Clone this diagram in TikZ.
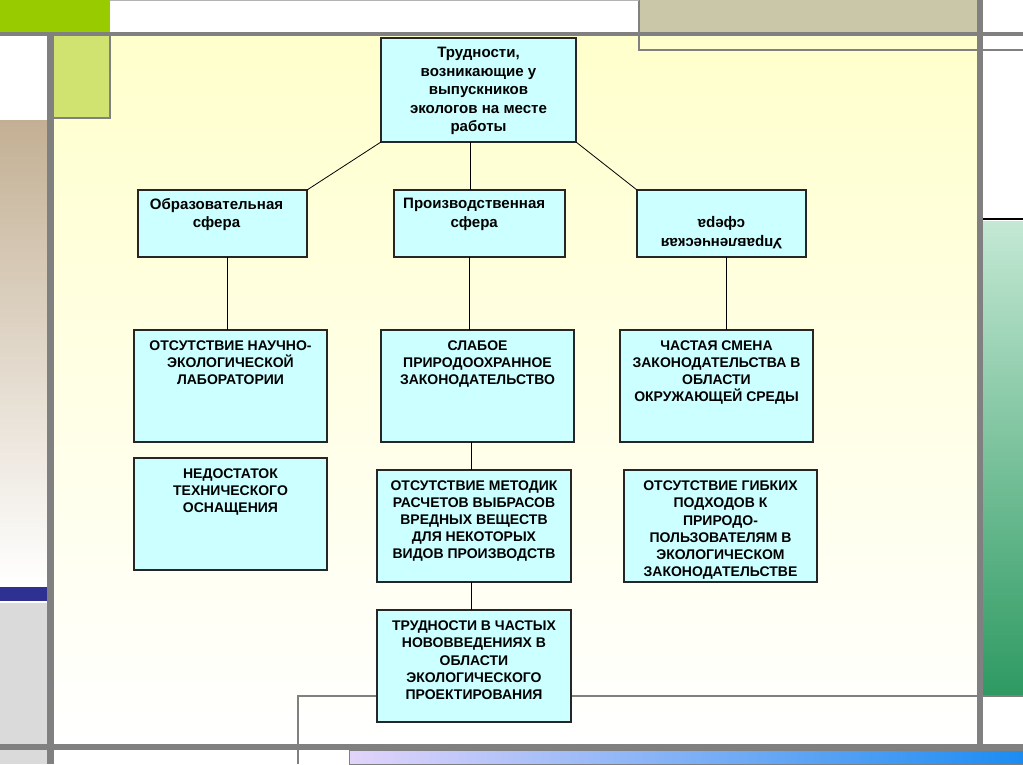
\documentclass[tikz,border=0pt]{standalone}
\usepackage{fontspec}
\setmainfont{Liberation Sans}
\usetikzlibrary{fit,calc}
\definecolor{barGray}{HTML}{808080}
\definecolor{bgYellow}{HTML}{FFFFCC}
\definecolor{greenA}{HTML}{99CC00}
\definecolor{greenB}{HTML}{D0E270}
\definecolor{khaki}{HTML}{C9C7A8}
\definecolor{tanTop}{HTML}{C3B094}
\definecolor{navyBand}{HTML}{2E3192}
\definecolor{lightGray}{HTML}{DADADA}
\definecolor{mintTop}{HTML}{C4E8D4}
\definecolor{mintBot}{HTML}{2E9A62}
\definecolor{lavender}{HTML}{E2D4FA}
\definecolor{skyBlue}{HTML}{1C8CF2}
\definecolor{boxFill}{HTML}{CCFFFF}
\begin{document}
\begin{tikzpicture}[x=0.75pt,y=-0.75pt,
  box/.style={draw=black!85, fill=boxFill, line width=0.8pt, inner sep=0pt, outer sep=0pt},
  txt/.style={font=\bfseries\fontsize{10.5}{12.9}\selectfont, align=center, inner sep=0pt, anchor=north},
  bigtxt/.style={txt, font=\bfseries\fontsize{11.3}{13.8}\selectfont},
  conn/.style={draw=black, line width=0.6pt},
  thinline/.style={draw=barGray, line width=1.2pt}]
\useasboundingbox (0,0) rectangle (1023,764);
\fill[white] (0,0) rectangle (1023,764);
% main background
\shade[top color=bgYellow, bottom color=white] (54,35) rectangle (977,744);
% left column
\shade[top color=tanTop, bottom color=white] (0,120) rectangle (47,585);
\fill[navyBand] (0,587) rectangle (47,601);
\fill[lightGray] (0,603) rectangle (47,764);
% top blocks
\fill[greenA] (0,0) rectangle (110,32);
\fill[khaki] (639,0) rectangle (977,32);
\fill[greenB] (54,36) rectangle (110,118);
\draw[draw=barGray, line width=1pt] (54,118) -- (110,118) -- (110,36);
% right column
\shade[top color=mintTop, bottom color=mintBot] (983,221) rectangle (1023,695);
\draw[line width=1.8pt] (983,219) -- (1023,219);
% bottom gradient
\shade[left color=lavender, right color=skyBlue, draw=barGray, line width=0.6pt] (349,750) rectangle (1023,764);
% thin frame lines
\draw[thinline] (298,764) -- (298,696) -- (1023,696);
\draw[thinline] (639,0) -- (639,50) -- (1023,50);
\draw[draw=barGray!60, line width=0.8pt] (110,0.5) -- (639,0.5);
% thick gray bars
\fill[barGray] (0,32) rectangle (1023,36);
\fill[barGray] (47,32) rectangle (54,764);
\fill[barGray] (977,0) rectangle (983,750);
\fill[barGray] (0,744) rectangle (1023,750);

% boxes
\node[box, fit={(381,38)(576,142)}] (top) {};
\node[box, fit={(138,190)(307,257)}] (obr) {};
\node[box, fit={(394,190)(565,257)}] (pro) {};
\node[box, fit={(637,190)(806,257)}] (upr) {};
\node[box, fit={(134,330)(327,442)}] (ra) {};
\node[box, fit={(381,330)(574,442)}] (rb) {};
\node[box, fit={(620,330)(813,442)}] (rc) {};
\node[box, fit={(134,458)(327,570)}] (sa) {};
\node[box, fit={(377,470)(571,582)}] (sb) {};
\node[box, fit={(624,470)(817,582)}] (sc) {};
\node[box, fit={(377,610)(571,722)}] (tb) {};

% texts
\node[bigtxt] (ttop) at ([yshift=-7pt]top.north) {Трудности,\\возникающие у\\выпускников\\экологов на месте\\работы};
\node[bigtxt] (tobr) at ([xshift=-4.5pt,yshift=-6pt]obr.north) {Образовательная\\сфера};
\node[bigtxt] (tpro) at ([xshift=-4pt,yshift=-6pt]pro.north) {Производственная\\сфера};
\node[bigtxt, rotate=180] (tupr) at ([yshift=6pt]upr.south) {Управленческая\\сфера};
\node[txt] (tra) at ([yshift=-7.5pt]ra.north) {ОТСУТСТВИЕ НАУЧНО-\\ЭКОЛОГИЧЕСКОЙ\\ЛАБОРАТОРИИ};
\node[txt] (trb) at ([yshift=-7.5pt]rb.north) {СЛАБОЕ\\ПРИРОДООХРАННОЕ\\ЗАКОНОДАТЕЛЬСТВО};
\node[txt] (trc) at ([yshift=-7.5pt]rc.north) {ЧАСТАЯ СМЕНА\\ЗАКОНОДАТЕЛЬСТВА В\\ОБЛАСТИ\\ОКРУЖАЮЩЕЙ СРЕДЫ};
\node[txt] (tsa) at ([yshift=-7.5pt]sa.north) {НЕДОСТАТОК\\ТЕХНИЧЕСКОГО\\ОСНАЩЕНИЯ};
\node[txt] (tsb) at ([yshift=-7.5pt]sb.north) {ОТСУТСТВИЕ МЕТОДИК\\РАСЧЕТОВ ВЫБРАСОВ\\ВРЕДНЫХ ВЕЩЕСТВ\\ДЛЯ НЕКОТОРЫХ\\ВИДОВ ПРОИЗВОДСТВ};
\node[txt] (tsc) at ([yshift=-8pt]sc.north) {ОТСУТСТВИЕ ГИБКИХ\\ПОДХОДОВ К\\ПРИРОДО-\\ПОЛЬЗОВАТЕЛЯМ В\\ЭКОЛОГИЧЕСКОМ\\ЗАКОНОДАТЕЛЬСТВЕ};
\node[txt] (ttb) at ([yshift=-8pt]tb.north) {ТРУДНОСТИ В ЧАСТЫХ\\НОВОВВЕДЕНИЯХ В\\ОБЛАСТИ\\ЭКОЛОГИЧЕСКОГО\\ПРОЕКТИРОВАНИЯ};

% connectors
\draw[conn] (top.south west) -- (obr.north east);
\draw[conn] (top.south east) -- (upr.north west);
\draw[conn] (top.south -| 470,0) -- (pro.north -| 470,0);
\draw[conn] (obr.south -| 227,0) -- (ra.north -| 227,0);
\draw[conn] (pro.south -| 469,0) -- (rb.north -| 469,0);
\draw[conn] (upr.south -| 726,0) -- (rc.north -| 726,0);
\draw[conn] (rb.south -| 471,0) -- (sb.north -| 471,0);
\draw[conn] (sb.south -| 471,0) -- (tb.north -| 471,0);
\end{tikzpicture}
\end{document}
